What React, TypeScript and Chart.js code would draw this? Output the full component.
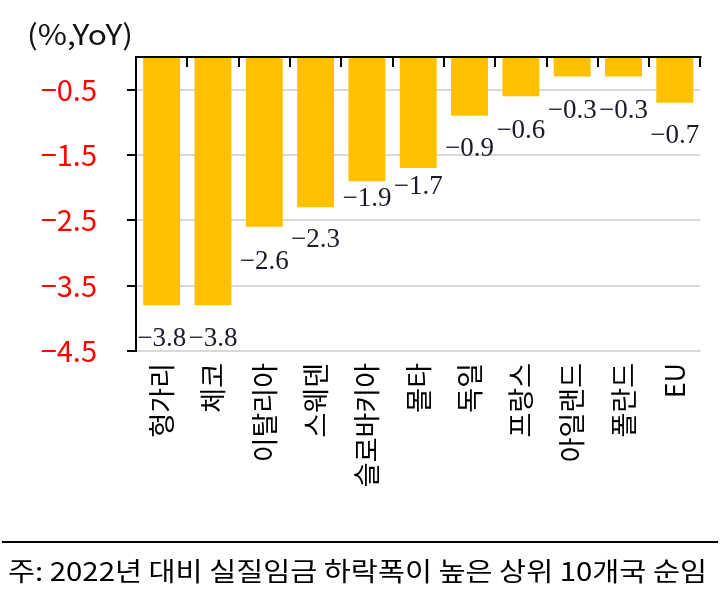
import React, { useEffect, useRef } from "react";
import { Chart, registerables } from "chart.js";

Chart.register(...registerables);

const categories = ["헝가리", "체코", "이탈리아", "스웨덴", "슬로바키아", "몰타", "독일", "프랑스", "아일랜드", "폴란드", "EU"];
const values = [-3.8, -3.8, -2.6, -2.3, -1.9, -1.7, -0.9, -0.6, -0.3, -0.3, -0.7];
const yTicks = [-0.5, -1.5, -2.5, -3.5, -4.5];
const unitLabel = "(%,YoY)";
const footnote = "주: 2022년 대비 실질임금 하락폭이 높은 상위 10개국 순임";

// vertical gap (px) between bar end and its value label
const labelGaps = [34, 34, 35, 33, 18, 19, 33, 35, 34, 34, 33];

const W = 720;
const H = 601;
const SANS = '"Noto Sans CJK KR", "Noto Sans", sans-serif';
const NUMFONT = '"Liberation Serif", serif';

const fmt = (v: number) => (v < 0 ? "\u2212" : "") + Math.abs(v).toFixed(1);

const fitText = (ctx: any, text: string, x: number, y: number, width: number) => {
  const tw = ctx.measureText(text).width;
  ctx.save();
  ctx.translate(x, y);
  ctx.scale(width / tw, 1);
  ctx.fillText(text, 0, 0);
  ctx.restore();
};

const decorPlugin = {
  id: "decor",
  afterDraw(chart: any) {
    const ctx = chart.ctx;
    const area = chart.chartArea;
    const y = chart.scales.y;
    ctx.save();
    // top axis line at 0
    const y0 = y.getPixelForValue(0);
    ctx.strokeStyle = "#000";
    ctx.lineWidth = 2;
    ctx.beginPath();
    ctx.moveTo(area.left - 1, y0);
    ctx.lineTo(area.right + 1, y0);
    ctx.stroke();
    // category tick marks
    const n = categories.length;
    const step = (area.right - area.left) / n;
    ctx.beginPath();
    for (let k = 1; k <= n; k++) {
      const px = Math.round(area.left + k * step);
      ctx.moveTo(px, y0);
      ctx.lineTo(px, y0 + 10);
    }
    ctx.stroke();

    // value labels
    const meta = chart.getDatasetMeta(0);
    ctx.fillStyle = "#1a1a2a";
    ctx.font = `27px ${NUMFONT}`;
    ctx.textAlign = "center";
    ctx.textBaseline = "middle";
    meta.data.forEach((bar: any, i: number) => {
      ctx.fillText(fmt(values[i]), bar.x, bar.y + labelGaps[i]);
    });

    // unit label
    ctx.font = `28px ${SANS}`;
    ctx.textAlign = "left";
    ctx.fillStyle = "#111";
    fitText(ctx, unitLabel, 27, 34, 106);

    // footnote line + text
    ctx.strokeStyle = "#000";
    ctx.lineWidth = 2;
    ctx.beginPath();
    ctx.moveTo(2, 542);
    ctx.lineTo(718, 542);
    ctx.stroke();
    ctx.font = `26px ${SANS}`;
    ctx.fillStyle = "#000";
    ctx.textAlign = "left";
    ctx.textBaseline = "middle";
    fitText(ctx, footnote, 8, 571, 699);
    ctx.restore();
  },
};

export default function App() {
  const ref = useRef<HTMLCanvasElement | null>(null);
  useEffect(() => {
    if (!ref.current) return;
    const chart = new Chart(ref.current, {
      type: "bar",
      data: {
        labels: categories,
        datasets: [
          {
            data: values,
            backgroundColor: "#FFC000",
            borderWidth: 0,
            categoryPercentage: 1,
            barPercentage: 0.72,
          },
        ],
      },
      options: {
        animation: false,
        responsive: false,
        layout: { padding: { top: 57, right: 17, bottom: 90, left: 0 } },
        plugins: { legend: { display: false }, tooltip: { enabled: false } },
        scales: {
          x: {
            position: "bottom",
            grid: { display: false, drawTicks: false },
            border: { display: false },
            ticks: {
              autoSkip: false,
              minRotation: 90,
              maxRotation: 90,
              padding: 12,
              color: "#000",
              font: { family: SANS, size: 27 },
            },
            afterFit: (s: any) => {
              s.height = 160;
            },
          },
          y: {
            min: -4.5,
            max: 0,
            afterBuildTicks: (s: any) => {
              s.ticks = yTicks.map((v) => ({ value: v }));
            },
            grid: {
              color: "#d9d9d9",
              lineWidth: 2,
              tickColor: "#000",
              tickLength: 9,
              tickWidth: 2,
            },
            border: { display: true, color: "#000", width: 2 },
            ticks: {
              padding: 30,
              color: "#FF0000",
              font: { family: SANS, size: 29 },
              callback: (v: any) => fmt(Number(v)),
            },
            afterFit: (s: any) => {
              s.width = 136;
            },
          },
        },
      },
      plugins: [decorPlugin],
    });
    return () => chart.destroy();
  }, []);
  return (
    <div style={{ position: "absolute", left: 0, top: 0, width: W, height: H, background: "#fff" }}>
      <canvas ref={ref} width={W} height={H} />
    </div>
  );
}
